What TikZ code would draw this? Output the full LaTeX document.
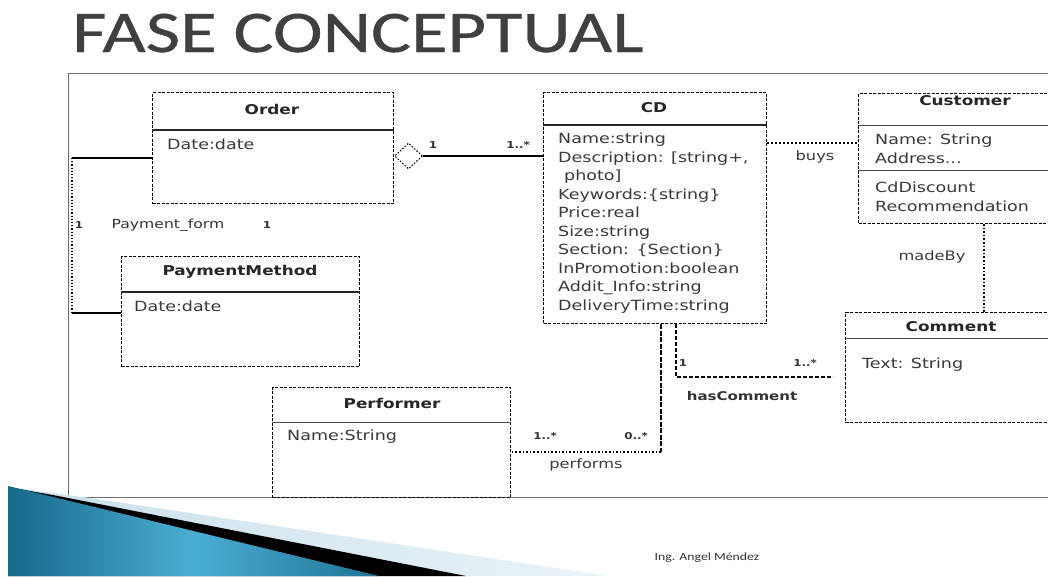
\documentclass[tikz,border=0pt]{standalone}
\usepackage{fontspec}
\newfontfamily\umlfont[FakeStretch=1.25]{DejaVu Sans}
\newfontfamily\titlefont[FakeStretch=1.27,FakeBold=0.6]{Carlito}
\newfontfamily\footfont[FakeStretch=1.25]{Carlito}
\usetikzlibrary{shapes.geometric}
\definecolor{titlegray}{HTML}{404040}
\definecolor{txtgray}{HTML}{3A3A3A}
\definecolor{framegray}{HTML}{6E6E6E}
\definecolor{tealdark}{HTML}{17698A}
\definecolor{teallight}{HTML}{4AAED3}
\definecolor{paleblue}{HTML}{C9E0EC}
\definecolor{paleblue2}{HTML}{EAF3F8}
\begin{document}
\begin{tikzpicture}[x=1pt,y=-1pt,
  classbox/.style={draw=black, line width=1pt, dash pattern=on 3pt off 1.5pt, anchor=north west, inner sep=0pt},
  divider/.style={line width=1.6pt, black!85},
  ctitle/.style={font=\umlfont\bfseries\fontsize{13.5}{16}\selectfont, text=black!85, inner sep=0pt},
  attr/.style={font=\umlfont\fontsize{14}{18.5}\selectfont, text=txtgray, align=left, anchor=north west, inner sep=0pt},
  mult/.style={font=\umlfont\bfseries\fontsize{9.5}{11}\selectfont, text=black!80, inner sep=0pt},
  asslabel/.style={font=\umlfont\fontsize{13}{15}\selectfont, text=txtgray, inner sep=0pt},
  solidlink/.style={line width=1.2pt, black},
  dotlink/.style={line width=1.8pt, black, dash pattern=on 1.6pt off 2pt},
  dashlink/.style={line width=1.1pt, black, dash pattern=on 3.5pt off 2.5pt}]
\useasboundingbox (0,0) rectangle (1048,576);
\clip (0,0) rectangle (1048,576);
\fill[white] (0,0) rectangle (1048,576);

% title
\node[font=\titlefont\fontsize{59}{64}\selectfont, text=titlegray, anchor=base west, inner sep=0pt] (title) at (72,52) {FASE CONCEPTUAL};

% frame
\node[draw=framegray, line width=1.2pt, anchor=north west, minimum width=1000, minimum height=424, inner sep=0pt] (frame) at (68,73) {};

% classes
\node[classbox, minimum width=241, minimum height=111] (order) at (152,92) {};
\node[ctitle] (orderT) at (272,109) {Order};
\draw[divider] (order.west |- 0,130) -- (order.east |- 0,130);
\node[attr] (orderA) at (167,139) {Date:date};

\node[classbox, minimum width=223, minimum height=231] (cd) at (543,92) {};
\node[ctitle] (cdT) at (654,108) {CD};
\draw[divider] (cd.west |- 0,125) -- (cd.east |- 0,125);
\node[attr] (cdA) at (558,133) {Name:string\\Description: [string+,\\\hspace*{6pt}photo]\\Keywords:\{string\}\\Price:real\\Size:string\\Section: \{Section\}\\InPromotion:boolean\\Addit\_Info:string\\DeliveryTime:string};

\node[classbox, minimum width=216, minimum height=130] (customer) at (858,93) {};
\node[ctitle] (customerT) at (965,101) {Customer};
\draw[line width=1pt, black!70] (customer.west |- 0,125) -- (customer.east |- 0,125);
\draw[line width=1pt, black!70] (customer.west |- 0,170) -- (customer.east |- 0,170);
\node[attr] (customerA) at (875,134) {Name: String\\Address...};
\node[attr] (customerB) at (875,182) {CdDiscount\\Recommendation};

\node[classbox, minimum width=212, minimum height=110] (comment) at (845,312) {};
\node[ctitle] (commentT) at (951,327) {Comment};
\draw[line width=1pt, black!70] (comment.west |- 0,338) -- (comment.east |- 0,338);
\node[attr] (commentA) at (862,358) {Text: String};

\node[classbox, minimum width=238, minimum height=110] (pay) at (121,256) {};
\node[ctitle] (payT) at (240,272) {PaymentMethod};
\draw[divider] (pay.west |- 0,292) -- (pay.east |- 0,292);
\node[attr] (payA) at (134,301) {Date:date};

\node[classbox, minimum width=238, minimum height=110] (perf) at (272,387) {};
\node[ctitle] (perfT) at (392,403) {Performer};
\draw[line width=1pt, black!70] (perf.west |- 0,422) -- (perf.east |- 0,422);
\node[attr] (perfA) at (287,430) {Name:String};

% aggregation Order - CD
\node[draw, diamond, line width=1pt, dash pattern=on 1.6pt off 1.6pt, minimum width=28, minimum height=26, inner sep=0pt, anchor=west] (dia) at (order.east |- 0,156) {};
\draw[solidlink] (dia.east) -- (dia.east -| cd.west);
\node[mult] (m1) at (433,145) {1};
\node[mult] (m2) at (518,145) {1..*};

% Payment_form
\coordinate (payTop) at (72,158);
\coordinate (payBot) at (72,313);
\draw[solidlink] (order.west |- payTop) -- (payTop);
\draw[line width=1.2pt, black, dash pattern=on 1.2pt off 2pt] (payTop) -- (payBot);
\draw[solidlink] (payBot) -- (pay.west |- payBot);
\node[mult] (m3) at (79,225) {1};
\node[mult, font=\umlfont\fontsize{12.5}{14}\selectfont] (pf) at (168,225) {Payment\_form};
\node[mult] (m4) at (267,225) {1};

% buys
\draw[line width=1.4pt, black, dash pattern=on 2pt off 2pt] (cd.east |- 0,143) -- (customer.west |- 0,143);
\node[asslabel] (buys) at (815,157) {buys};

% madeBy
\draw[dotlink, line width=2.4pt] (customer.south -| 984,0) -- (comment.north -| 984,0);
\node[asslabel] (madeby) at (932,257) {madeBy};

% hasComment
\coordinate (hcC) at (676,377);
\draw[dashlink, shorten >=12pt] (cd.south -| hcC) -- (hcC) -- (comment.west |- hcC);
\node[mult] (m5) at (683,363) {1};
\node[mult] (m6) at (805,363) {1..*};
\node[mult, font=\umlfont\bfseries\fontsize{12}{14}\selectfont] (hc) at (742,396) {hasComment};

% performs
\coordinate (pfC) at (661,452);
\draw[line width=1.8pt, black, dash pattern=on 5pt off 1.5pt] (cd.south -| pfC) -- (pfC);
\draw[dotlink] (pfC) -- (perf.east |- pfC);
\node[mult] (m7) at (545,436) {1..*};
\node[mult] (m8) at (636,436) {0..*};
\node[asslabel] (performs) at (586,465) {performs};

% decoration bottom-left
\shade[left color=paleblue, right color=paleblue2] (8,487) -- (90,498) -- (609,576) -- (8,576) -- cycle;
\fill[black] (8,487) -- (58,496) -- (466,576) -- (8,576) -- cycle;
\shade[left color=tealdark, right color=tealdark!85!teallight, middle color=teallight] (8,486) -- (379,576) -- (8,576) -- cycle;

% footer
\node[font=\footfont\fontsize{11}{13}\selectfont, text=black!80, inner sep=0pt] (footer) at (707,558) {Ing. Angel Méndez};
\end{tikzpicture}
\end{document}
